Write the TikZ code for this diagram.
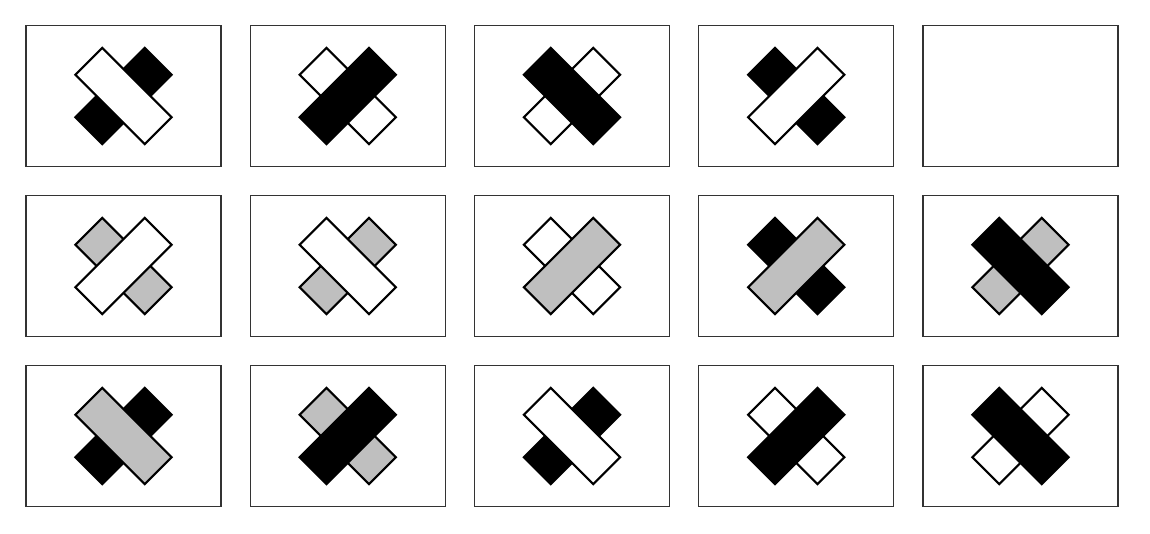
\documentclass[tikz,border=0pt]{standalone}
\begin{document}
\begin{tikzpicture}[
    x=0.02cm, y=0.02cm,
    panel/.style={draw=black!80, line width=0.8pt},
    bar/.style={draw=black, line width=1.2pt, line join=miter}
  ]
    \useasboundingbox (0,0) rectangle (1150,534);
    % Marcos: 3 filas x 5 columnas
    \foreach \c in {0,...,4} {
      \foreach \r in {0,1,2} {
        \draw[panel] ({26+224.25*\c},{508.5-170*\r}) rectangle ++(195,-141);
      }
    }
    % Cruces: columna/fila/ángulo de la barra de arriba/relleno arriba/relleno abajo
    \foreach \c/\r/\a/\tfill/\ufill in {
        0/0/-45/white/black,    1/0/45/black/white,     2/0/-45/black/white,
        3/0/45/white/black,
        0/1/45/white/gray!50,   1/1/-45/white/gray!50,  2/1/45/gray!50/white,
        3/1/45/gray!50/black,   4/1/-45/black/gray!50,
        0/2/-45/gray!50/black,  1/2/45/black/gray!50,   2/2/-45/white/black,
        3/2/45/black/white,     4/2/-45/black/white} {
      \begin{scope}[shift={({123.5+224.25*\c},{438-170*\r})}]
        \draw[bar, fill=\ufill, rotate=\a+90] (-49,-19) rectangle (49,19);
        \draw[bar, fill=\tfill, rotate=\a] (-49,-19) rectangle (49,19);
      \end{scope}
    }
\end{tikzpicture}
\end{document}
